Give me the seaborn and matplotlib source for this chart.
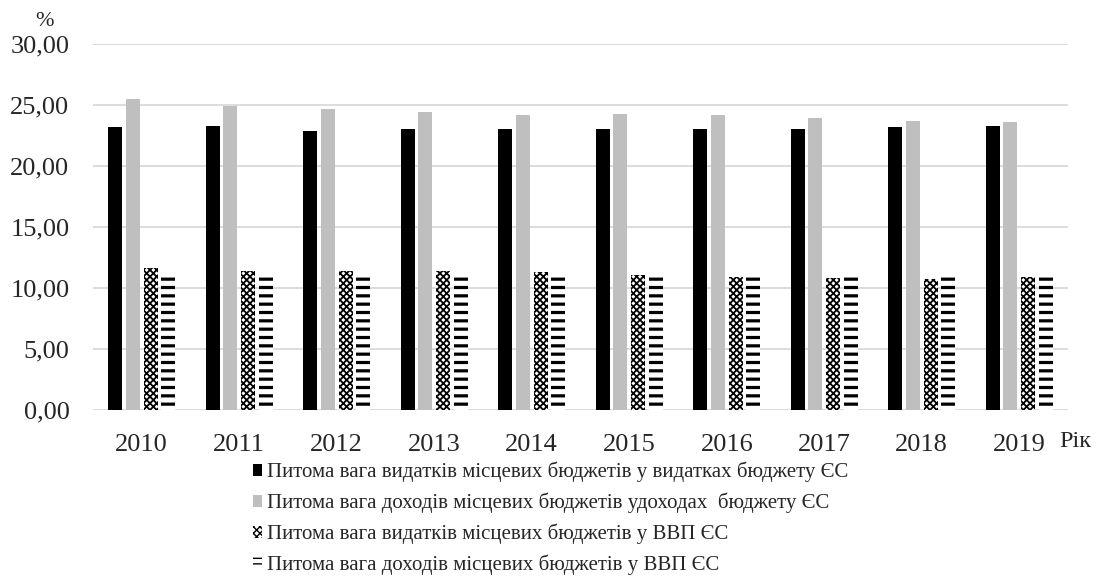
import matplotlib
matplotlib.use("Agg")
import matplotlib.pyplot as plt
import seaborn as sns
import pandas as pd

# Data
years = ["2010", "2011", "2012", "2013", "2014", "2015", "2016", "2017", "2018", "2019"]
series_names = [
    "Питома вага видатків місцевих бюджетів у видатках бюджету ЄС",
    "Питома вага доходів місцевих бюджетів удоходах  бюджету ЄС",
    "Питома вага видатків місцевих бюджетів у ВВП ЄС",
    "Питома вага доходів місцевих бюджетів у ВВП ЄС",
]
exp_share_budget = [23.2, 23.3, 22.9, 23.0, 23.0, 23.0, 23.0, 23.0, 23.2, 23.3]
rev_share_budget = [25.5, 24.9, 24.7, 24.4, 24.2, 24.3, 24.2, 23.9, 23.7, 23.6]
exp_share_gdp = [11.6, 11.4, 11.4, 11.4, 11.3, 11.1, 10.9, 10.8, 10.7, 10.9]
rev_share_gdp = [11.0, 11.0, 11.0, 11.0, 11.0, 11.0, 11.0, 11.0, 11.0, 10.9]

values = [exp_share_budget, rev_share_budget, exp_share_gdp, rev_share_gdp]
rows = []
for name, vals in zip(series_names, values):
    for y, v in zip(years, vals):
        rows.append({"Рік": y, "series": name, "value": v})
df = pd.DataFrame(rows)

sns.set_theme(style="white")
plt.rcParams["font.family"] = ["Liberation Serif", "DejaVu Serif"]

fig = plt.figure(figsize=(11.05, 5.77), dpi=100)
ax = fig.add_axes([93 / 1105, 1 - 410 / 577, 975 / 1105, 366 / 577])

palette = ["#000000", "#bfbfbf", "#ffffff", "#ffffff"]
sns.barplot(data=df, x="Рік", y="value", hue="series", hue_order=series_names,
            order=years, palette=palette, width=0.72, gap=0.2,
            linewidth=0, ax=ax, legend=True)

hatches = [None, None, "xxxxx", "--"]
hatch_lw = [1.0, 1.0, 1.3, 2.3]
# the legend keys are small, so the stripe key uses a denser pattern
legend_hatches = [None, None, "xxxxx", "---"]
legend_hatch_lw = [1.0, 1.0, 1.3, 1.9]


def style_patch(p, h, hl):
    if h:
        p.set_hatch(h)
        p.set_edgecolor("black")
        p.set_linewidth(0)
        if hasattr(p, "set_hatch_linewidth"):
            p.set_hatch_linewidth(hl)


for cont, h, hl in zip(ax.containers, hatches, hatch_lw):
    for p in cont:
        style_patch(p, h, hl)

ax.set_ylim(0, 30)
ax.set_xlim(-0.5, 9.5)
ticks = [0, 5, 10, 15, 20, 25, 30]
ax.set_yticks(ticks)
ax.set_yticklabels([f"{v:.2f}".replace(".", ",") for v in ticks])
ax.yaxis.grid(True, color="#d9d9d9", linewidth=1.3)
ax.set_axisbelow(True)
for s in ax.spines.values():
    s.set_visible(False)
ax.tick_params(axis="both", length=0, labelsize=19)
ax.tick_params(axis="y", pad=17)
ax.tick_params(axis="x", pad=17)
ax.set_xlabel("")
ax.set_ylabel("")

fig.text(44 / 1105, 1 - 21 / 577, "%", ha="center", va="center", fontsize=16)
fig.text(1059 / 1105, 1 - 447 / 577, "Рік", ha="left", va="baseline", fontsize=17.5)

handles, labels = ax.get_legend_handles_labels()
ax.get_legend().remove()
for hdl, h, hl in zip(handles, legend_hatches, legend_hatch_lw):
    style_patch(hdl, h, hl)
fig.legend(handles, labels, loc="upper left", bbox_to_anchor=(253 / 1105, 1 - 462 / 577),
           frameon=False, fontsize=15, handlelength=0.45, handleheight=0.45,
           handletextpad=0.2, labelspacing=0.5, borderpad=0, borderaxespad=0)

fig.savefig("out.png", dpi=100)
